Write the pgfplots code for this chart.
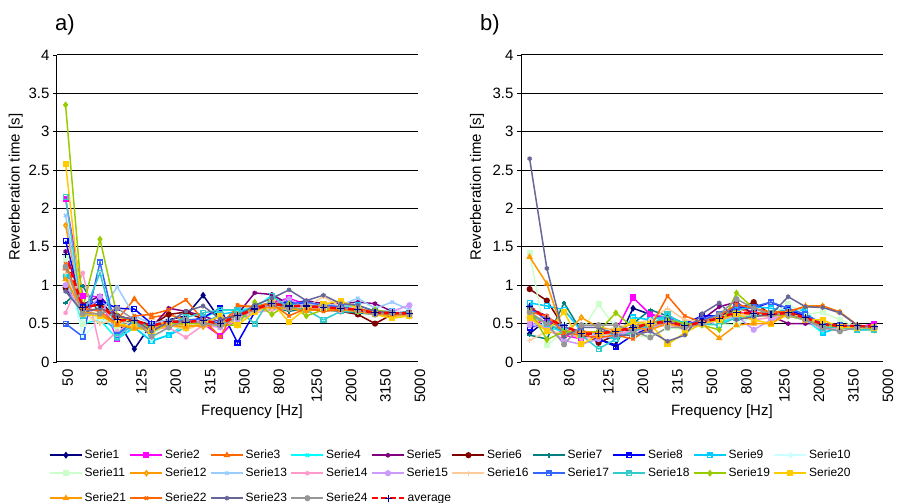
\documentclass[border=0pt]{standalone}
\usepackage{pgfplots}
\usepackage{pgfplotstable}
\pgfplotsset{compat=1.18}
\usepackage{fontspec}
\setmainfont{Liberation Sans}

\definecolor{c1}{HTML}{000080}
\definecolor{c2}{HTML}{FF00FF}
\definecolor{c3}{HTML}{FF6600}
\definecolor{c4}{HTML}{00FFFF}
\definecolor{c5}{HTML}{800080}
\definecolor{c6}{HTML}{800000}
\definecolor{c7}{HTML}{008080}
\definecolor{c8}{HTML}{0000FF}
\definecolor{c9}{HTML}{00CCFF}
\definecolor{c10}{HTML}{CCFFFF}
\definecolor{c11}{HTML}{CCFFCC}
\definecolor{c12}{HTML}{FF9900}
\definecolor{c13}{HTML}{99CCFF}
\definecolor{c14}{HTML}{FF99CC}
\definecolor{c15}{HTML}{CC99FF}
\definecolor{c16}{HTML}{FFCC99}
\definecolor{c17}{HTML}{3366FF}
\definecolor{c18}{HTML}{33CCCC}
\definecolor{c19}{HTML}{99CC00}
\definecolor{c20}{HTML}{FFCC00}
\definecolor{c21}{HTML}{FF9900}
\definecolor{c22}{HTML}{FF6600}
\definecolor{c23}{HTML}{666699}
\definecolor{c24}{HTML}{969696}
\definecolor{yel}{HTML}{FFFF00}
\definecolor{ltyel}{HTML}{FFFF66}

% shift a rotated tick label to the right by #1 without changing its box
\newcommand{\xl}[2]{\raisebox{-#1}[\height][\depth]{#2}}

\pgfplotsset{
  ser/.style={line width=1.5pt, mark size=2.3pt, mark options={solid}},
  s1/.style={ser, color=c1, mark=diamond*},
  s2/.style={ser, color=c2, mark=square*},
  s3/.style={ser, color=c3, mark=triangle*, mark options={solid, fill=yel}},
  s4/.style={ser, color=c4, mark=x},
  s5/.style={ser, color=c5, mark=asterisk},
  s6/.style={ser, color=c6, mark=*},
  s7/.style={ser, color=c7, mark=+},
  s8/.style={ser, color=c8, mark=square, mark options={solid, fill=c8!40}},
  s9/.style={ser, color=c9, mark=square, mark options={solid, fill=white}},
  s10/.style={ser, color=c10, mark=diamond*},
  s11/.style={ser, color=c11, mark=square*},
  s12/.style={ser, color=c12, mark=diamond*, mark options={solid, fill=ltyel}},
  s13/.style={ser, color=c13, mark=x},
  s14/.style={ser, color=c14, mark=asterisk},
  s15/.style={ser, color=c15, mark=*},
  s16/.style={ser, color=c16, mark=+},
  s17/.style={ser, color=c17, mark=square, mark options={solid, fill=c17!40}},
  s18/.style={ser, color=c18, mark=square, mark options={solid, fill=c18!30}},
  s19/.style={ser, color=c19, mark=diamond*},
  s20/.style={ser, color=c20, mark=square*},
  s21/.style={ser, color=c21, mark=triangle*},
  s22/.style={ser, color=c22, mark=x},
  s23/.style={ser, color=c23, mark=asterisk},
  s24/.style={ser, color=c24, mark=*},
  avg/.style={line width=2.5pt, color=red, dash pattern=on 6pt off 3pt, mark=+, mark size=3.6pt, mark options={solid, line width=1.1pt, color=c1}},
  common/.style={
    scale only axis, anchor=south west, height=307pt,
    xmin=-0.5, xmax=20.5, ymin=0, ymax=4,
    axis x line*=bottom, axis y line*=left,
    axis line style={black, line width=1pt},
    ytick={0,0.5,1,1.5,2,2.5,3,3.5,4},
    ymajorgrids, grid style={black, line width=1pt},
    ytick style={black, line width=0.8pt}, tick align=outside, major tick length=4pt,
    xtick={0,2,4,6,8,10,12,14,16,18,20},
    xticklabels={{\xl{0pt}{50}},{\xl{0pt}{80}},{\xl{5pt}{125}},{\xl{5pt}{200}},{\xl{5pt}{315}},{\xl{5pt}{500}},{\xl{5pt}{800}},{\xl{8.5pt}{1250}},{\xl{8.5pt}{2000}},{\xl{8.5pt}{3150}},{\xl{8.5pt}{5000}}},
    xtick style={draw=none},
    yticklabel style={font=\fontsize{15}{15}\selectfont},
    /pgf/number format/assume math mode=true,
    xlabel={Frequency [Hz]}, ylabel={Reverberation time [s]},
    label style={font=\fontsize{15}{15}\selectfont},
    title style={font=\fontsize{22}{22}\selectfont, anchor=center},
    legend image code/.code={\draw[mark repeat=2,mark phase=2,##1] plot coordinates {(0pt,0pt) (16pt,0pt) (32pt,0pt)};},
    legend cell align=left,
  },
  leg/.style={draw=none, fill=none, inner sep=0pt, row sep=2pt, anchor=north west,
    font=\fontsize{12}{12}\selectfont, nodes={inner sep=2pt, text height=9pt, text depth=3pt}},
}

% rows = series, columns = 1/3-octave bands 50 ... 5000 Hz (index 0..20)
\pgfplotstableread{
name 0 1 2 3 4 5 6 7 8 9 10 11 12 13 14 15 16 17 18 19 20
s1 0.95 0.70 0.80 0.55 0.17 0.50 0.55 0.60 0.87 0.55 0.62 0.68 0.75 0.72 0.75 0.72 0.72 0.70 0.65 0.64 0.62
s2 2.12 0.86 0.85 0.30 0.45 0.42 0.50 0.55 0.50 0.34 0.58 0.70 0.78 0.83 0.75 0.73 0.70 0.68 0.64 0.63 0.64
s3 1.22 0.65 0.70 0.55 0.82 0.58 0.62 0.55 0.50 0.48 0.72 0.72 0.78 0.74 0.70 0.72 0.74 0.68 0.64 0.62 0.60
s4 1.12 0.50 0.55 0.30 0.45 0.28 0.35 0.50 0.58 0.67 0.68 0.70 0.87 0.76 0.72 0.70 0.72 0.72 0.66 0.65 0.62
s5 1.44 0.75 0.86 0.60 0.55 0.45 0.70 0.66 0.60 0.52 0.62 0.90 0.88 0.75 0.80 0.76 0.76 0.78 0.76 0.66 0.65
s6 0.97 0.70 0.75 0.60 0.55 0.48 0.62 0.65 0.56 0.50 0.62 0.70 0.74 0.72 0.70 0.70 0.66 0.62 0.50 0.62 0.63
s7 0.77 0.99 0.62 0.48 0.55 0.45 0.50 0.55 0.50 0.48 0.60 0.66 0.72 0.66 0.70 0.68 0.66 0.64 0.62 0.62 0.62
s8 1.58 0.72 0.80 0.70 0.69 0.50 0.48 0.52 0.58 0.70 0.25 0.65 0.74 0.78 0.76 0.72 0.70 0.68 0.64 0.64 0.64
s9 1.12 0.62 0.60 0.40 0.45 0.27 0.35 0.45 0.50 0.62 0.66 0.68 0.72 0.70 0.68 0.70 0.72 0.74 0.66 0.66 0.64
s10 1.30 0.33 0.55 0.50 0.48 0.30 0.45 0.48 0.52 0.45 0.55 0.65 0.70 0.70 0.72 0.70 0.70 0.72 0.64 0.66 0.64
s11 1.35 0.50 0.60 0.45 0.52 0.40 0.50 0.48 0.52 0.46 0.56 0.68 0.74 0.70 0.72 0.70 0.68 0.66 0.62 0.62 0.62
s12 1.78 0.65 0.62 0.50 0.45 0.48 0.52 0.48 0.46 0.48 0.55 0.66 0.70 0.70 0.68 0.72 0.70 0.66 0.62 0.60 0.60
s13 1.91 0.60 0.62 0.98 0.60 0.50 0.55 0.50 0.55 0.52 0.58 0.66 0.74 0.72 0.76 0.74 0.74 0.83 0.70 0.78 0.68
s14 0.64 1.16 0.19 0.40 0.52 0.42 0.45 0.32 0.48 0.45 0.55 0.64 0.68 0.70 0.72 0.70 0.66 0.66 0.62 0.62 0.62
s15 1.00 0.62 0.85 0.35 0.48 0.40 0.50 0.55 0.52 0.45 0.55 0.66 0.74 0.82 0.70 0.72 0.70 0.70 0.66 0.66 0.74
s16 1.15 0.65 0.50 0.55 0.48 0.45 0.48 0.42 0.50 0.48 0.58 0.66 0.70 0.72 0.72 0.85 0.72 0.70 0.64 0.64 0.62
s17 0.50 0.33 1.30 0.35 0.55 0.45 0.50 0.55 0.56 0.50 0.62 0.70 0.76 0.76 0.78 0.74 0.72 0.68 0.66 0.64 0.64
s18 2.15 0.60 1.16 0.32 0.50 0.38 0.50 0.58 0.64 0.68 0.68 0.50 0.86 0.70 0.68 0.55 0.66 0.66 0.62 0.62 0.62
s19 3.35 0.70 1.60 0.60 0.52 0.45 0.50 0.50 0.50 0.48 0.48 0.78 0.62 0.76 0.60 0.68 0.70 0.66 0.68 0.64 0.62
s20 2.58 0.62 0.60 0.50 0.45 0.40 0.48 0.45 0.50 0.60 0.48 0.65 0.78 0.52 0.70 0.75 0.80 0.70 0.62 0.57 0.60
s21 1.08 0.66 0.62 0.48 0.44 0.45 0.48 0.46 0.48 0.50 0.62 0.68 0.72 0.70 0.66 0.70 0.68 0.66 0.62 0.62 0.62
s22 1.28 0.70 0.66 0.50 0.60 0.62 0.68 0.81 0.55 0.33 0.74 0.72 0.76 0.60 0.70 0.66 0.68 0.70 0.64 0.62 0.65
s23 0.92 0.65 0.70 0.60 0.55 0.40 0.52 0.66 0.73 0.56 0.60 0.74 0.83 0.94 0.80 0.87 0.76 0.74 0.66 0.64 0.62
s24 1.24 0.63 0.63 0.70 0.55 0.33 0.45 0.55 0.50 0.48 0.58 0.68 0.76 0.70 0.74 0.72 0.70 0.68 0.62 0.64 0.62
avg 1.40 0.71 0.75 0.55 0.54 0.47 0.53 0.52 0.54 0.50 0.60 0.69 0.76 0.73 0.73 0.71 0.70 0.68 0.64 0.64 0.63
}\rawA

\pgfplotstableread{
name 0 1 2 3 4 5 6 7 8 9 10 11 12 13 14 15 16 17 18 19 20
s1 0.37 0.55 0.40 0.35 0.30 0.22 0.70 0.62 0.55 0.45 0.50 0.62 0.70 0.65 0.62 0.62 0.55 0.48 0.45 0.46 0.45
s2 0.48 0.55 0.35 0.30 0.35 0.40 0.84 0.62 0.58 0.48 0.50 0.55 0.65 0.62 0.64 0.62 0.55 0.45 0.46 0.45 0.50
s3 0.60 0.50 0.45 0.40 0.35 0.42 0.40 0.52 0.50 0.45 0.55 0.58 0.70 0.65 0.62 0.66 0.60 0.50 0.48 0.46 0.45
s4 0.55 0.45 0.40 0.35 0.38 0.35 0.55 0.45 0.60 0.50 0.48 0.50 0.60 0.62 0.60 0.60 0.55 0.38 0.45 0.42 0.44
s5 0.70 0.60 0.42 0.35 0.40 0.38 0.42 0.50 0.55 0.40 0.55 0.72 0.78 0.62 0.60 0.50 0.50 0.50 0.48 0.45 0.46
s6 0.95 0.80 0.45 0.40 0.25 0.35 0.42 0.45 0.50 0.45 0.52 0.60 0.68 0.78 0.62 0.65 0.58 0.48 0.46 0.46 0.45
s7 0.35 0.30 0.77 0.40 0.38 0.45 0.50 0.68 0.60 0.50 0.52 0.55 0.62 0.60 0.62 0.62 0.56 0.48 0.45 0.45 0.44
s8 0.45 0.50 0.40 0.35 0.30 0.20 0.35 0.45 0.55 0.50 0.60 0.60 0.72 0.70 0.78 0.68 0.60 0.50 0.47 0.46 0.45
s9 0.77 0.73 0.68 0.40 0.35 0.30 0.58 0.55 0.60 0.50 0.48 0.55 0.68 0.72 0.70 0.66 0.68 0.38 0.45 0.42 0.42
s10 0.55 0.45 0.50 0.38 0.40 0.45 0.50 0.48 0.55 0.50 0.50 0.55 0.62 0.60 0.62 0.62 0.58 0.48 0.46 0.46 0.45
s11 1.42 0.22 0.40 0.40 0.75 0.45 0.35 0.32 0.45 0.42 0.48 0.50 0.48 0.60 0.62 0.75 0.62 0.65 0.55 0.46 0.45
s12 0.62 0.40 0.35 0.58 0.45 0.42 0.50 0.45 0.55 0.45 0.52 0.58 0.65 0.60 0.60 0.62 0.58 0.50 0.48 0.47 0.45
s13 0.50 0.48 0.45 0.40 0.35 0.40 0.45 0.50 0.55 0.48 0.50 0.55 0.58 0.62 0.60 0.62 0.55 0.45 0.44 0.42 0.43
s14 0.52 0.60 0.40 0.30 0.35 0.38 0.40 0.45 0.48 0.45 0.48 0.55 0.60 0.55 0.58 0.60 0.55 0.42 0.45 0.44 0.42
s15 0.48 0.45 0.28 0.23 0.30 0.35 0.40 0.45 0.50 0.45 0.50 0.55 0.60 0.42 0.55 0.60 0.55 0.45 0.45 0.44 0.44
s16 0.28 0.40 0.38 0.35 0.40 0.45 0.50 0.55 0.70 0.55 0.52 0.60 0.62 0.60 0.62 0.62 0.58 0.48 0.46 0.44 0.40
s17 0.70 0.55 0.45 0.40 0.38 0.40 0.45 0.50 0.55 0.48 0.55 0.62 0.72 0.72 0.78 0.70 0.62 0.50 0.48 0.46 0.45
s18 0.62 0.50 0.40 0.35 0.17 0.30 0.40 0.48 0.62 0.48 0.50 0.48 0.58 0.60 0.62 0.62 0.55 0.45 0.45 0.42 0.42
s19 0.68 0.29 0.40 0.38 0.40 0.64 0.45 0.50 0.55 0.50 0.48 0.42 0.90 0.70 0.62 0.60 0.55 0.48 0.46 0.45 0.44
s20 0.58 0.40 0.65 0.23 0.35 0.40 0.52 0.50 0.23 0.38 0.50 0.55 0.62 0.55 0.50 0.62 0.55 0.55 0.45 0.45 0.45
s21 1.37 1.02 0.35 0.40 0.38 0.40 0.45 0.42 0.50 0.45 0.50 0.31 0.48 0.50 0.50 0.65 0.73 0.73 0.65 0.48 0.45
s22 0.65 0.60 0.38 0.35 0.32 0.35 0.30 0.45 0.86 0.60 0.52 0.60 0.75 0.70 0.65 0.66 0.72 0.73 0.65 0.48 0.45
s23 2.65 1.22 0.33 0.45 0.45 0.35 0.35 0.40 0.27 0.35 0.63 0.77 0.55 0.59 0.62 0.85 0.72 0.71 0.64 0.48 0.45
s24 0.65 0.50 0.23 0.48 0.48 0.48 0.40 0.32 0.45 0.45 0.50 0.62 0.82 0.70 0.62 0.62 0.55 0.45 0.40 0.45 0.45
avg 0.72 0.57 0.47 0.37 0.37 0.40 0.45 0.50 0.53 0.47 0.52 0.57 0.65 0.63 0.62 0.64 0.58 0.49 0.47 0.47 0.46
}\rawB

\pgfplotstabletranspose[colnames from=name]{\dataA}{\rawA}
\pgfplotstabletranspose[colnames from=name]{\dataB}{\rawB}

\begin{document}
\begin{tikzpicture}
\path[use as bounding box] (0pt,0pt) rectangle (897pt,503pt);

\begin{axis}[common, at={(57pt,141pt)}, width=361pt,
  xticklabel style={xshift=2pt, rotate=90, anchor=east, font=\fontsize{15}{15}\selectfont},
  title={a)}, title style={at={(axis description cs:0.022,1.08)}},
  xlabel style={at={(axis description cs:0.54,-0.163)}, anchor=center},
  ylabel style={at={(axis description cs:-0.114,0.57)}, anchor=center},
  legend columns=10,
  legend style={leg, at={(axis description cs:-0.0222,-0.2769)}},
]
\pgfplotsinvokeforeach{s1,s2,s3,s4,s5,s6,s7,s8,s9,s10,s11,s12,s13,s14,s15,s16,s17,s18,s19,s20,s21,s22,s23,s24,avg}{
  \addplot[#1, forget plot] table[x=colnames, y=#1] {\dataA};
}
\pgfplotsinvokeforeach{1,...,20}{
  \addlegendimage{s#1}
  \addlegendentry{\makebox[43pt][l]{Serie#1}}
}
\end{axis}

\begin{axis}[common, at={(521pt,141pt)}, width=362pt,
  xticklabel style={xshift=5pt, rotate=90, anchor=east, font=\fontsize{15}{15}\selectfont},
  title={b)}, title style={at={(axis description cs:-0.086,1.08)}},
  xlabel style={at={(axis description cs:0.555,-0.163)}, anchor=center},
  ylabel style={at={(axis description cs:-0.1215,0.57)}, anchor=center},
  legend columns=10,
  legend style={leg, at={(axis description cs:-1.3039,-0.4169)}},
]
\pgfplotsinvokeforeach{s1,s2,s3,s4,s5,s6,s7,s8,s9,s10,s11,s12,s13,s14,s15,s16,s17,s18,s19,s20,s21,s22,s23,s24,avg}{
  \addplot[#1, forget plot] table[x=colnames, y=#1] {\dataB};
}
\pgfplotsinvokeforeach{21,...,24}{
  \addlegendimage{s#1}
  \addlegendentry{\makebox[43pt][l]{Serie#1}}
}
\addlegendimage{avg}
\addlegendentry{\makebox[43pt][l]{average}}
\end{axis}
\end{tikzpicture}
\end{document}
